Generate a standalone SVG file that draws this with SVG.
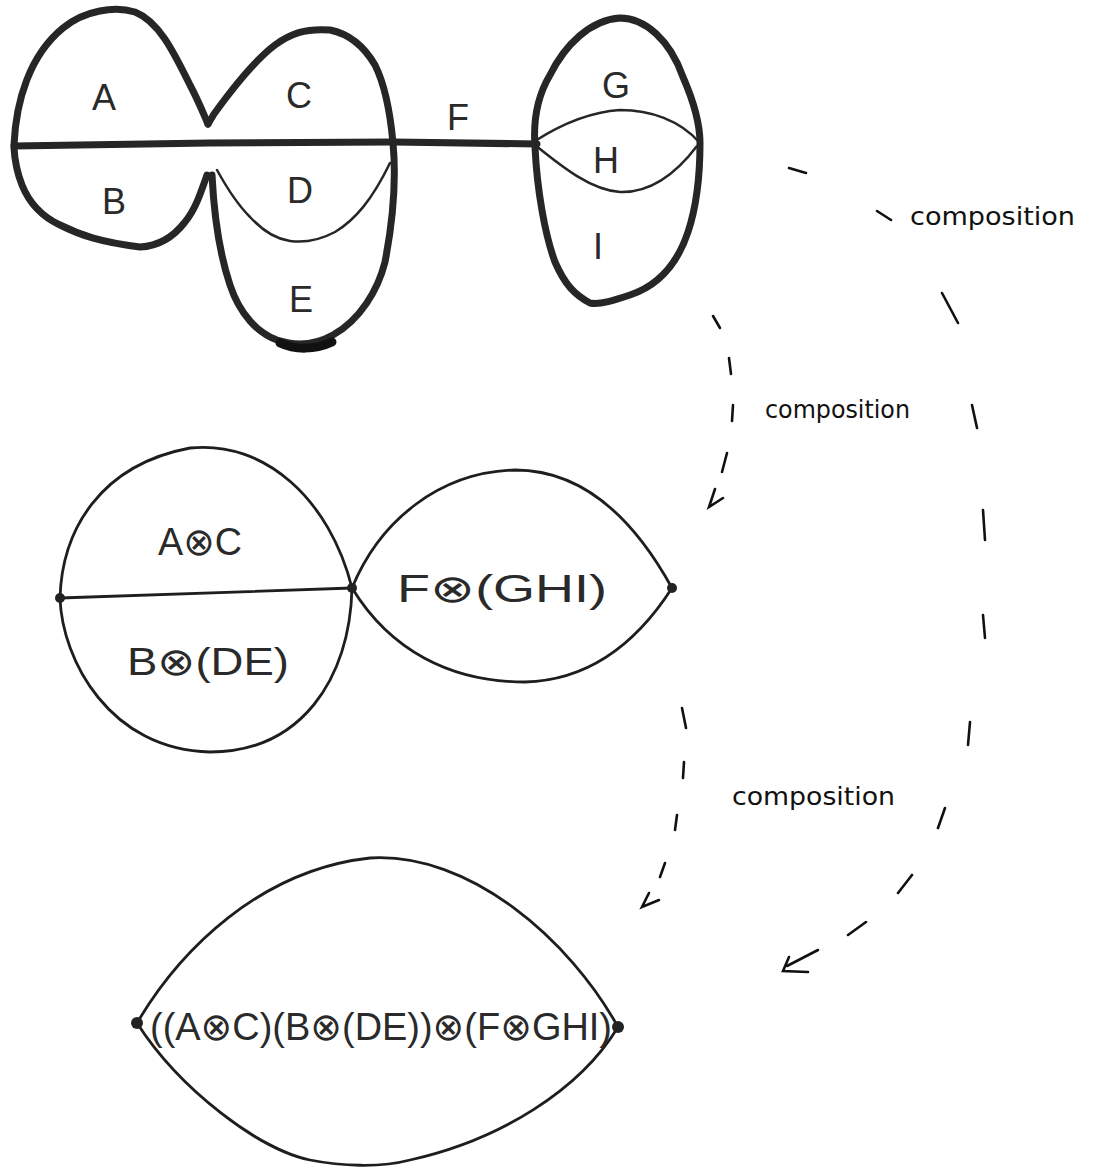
<svg xmlns="http://www.w3.org/2000/svg" width="1093" height="1172" viewBox="0 0 1093 1172">
<style>
.thick{fill:none;stroke:#262626;stroke-width:7;stroke-linecap:round;stroke-linejoin:round}
.thin{fill:none;stroke:#262626;stroke-width:2.5;stroke-linecap:round;stroke-linejoin:round}
.med{fill:none;stroke:#1e1e1e;stroke-width:2.8;stroke-linecap:round;stroke-linejoin:round}
.dash{fill:none;stroke:#111;stroke-width:2.6;stroke-linecap:round}
.lbl{font-family:"Liberation Sans","DejaVu Sans",sans-serif;font-size:36px;fill:#2a2a2a;text-anchor:middle}
.lbl2{font-family:"Liberation Sans","DejaVu Sans",sans-serif;font-size:38px;fill:#2a2a2a}
.cmp{font-family:"DejaVu Sans","Liberation Sans",sans-serif;font-size:24px;fill:#111}
.dot{fill:#222}
</style>
<rect width="1093" height="1172" fill="#fff"/>

<g id="top-diagram">
  <g id="node-A">
    <path class="thick" d="M14,145 C16,100 30,55 63,28 C85,10 115,6 135,12 C160,22 175,55 190,85 C198,100 204,115 208,124"/>
    <text class="lbl" x="104" y="110">A</text>
  </g>
  <g id="node-B">
    <path class="thick" d="M14,148 C15,165 18,175 22,185 C30,205 45,218 60,225 C80,235 100,242 140,247 C160,246 175,235 185,222 C195,210 200,195 207,175"/>
    <text class="lbl" x="114" y="214">B</text>
  </g>
  <g id="node-C">
    <path class="thick" d="M208,124 L214,114 C235,85 255,60 275,45 C290,34 305,28 330,30 C350,34 365,48 375,65 C385,85 390,110 393,143"/>
    <text class="lbl" x="299" y="108">C</text>
  </g>
  <g id="node-DE">
    <path class="thick" d="M393,143 C396,175 395,210 385,262 C378,290 360,320 333,335 C315,345 295,346 277,340 C258,333 240,315 230,285 C220,255 214,215 212,175"/>
    <path d="M280,343 C295,350 315,350 332,342" fill="none" stroke="#111" stroke-width="9" stroke-linecap="round"/>
    <path class="thin" d="M217,170 C228,190 238,205 250,217 C262,230 275,239 290,241 C305,243 320,240 335,232 C355,220 372,200 390,163"/>
    <text class="lbl" x="300" y="203">D</text>
    <text class="lbl" x="301" y="312">E</text>
  </g>
  <g id="node-GHI">
    <path class="thick" d="M535,147 C533,120 538,95 550,75 C565,45 590,20 620,18 C645,18 670,40 683,77 C693,100 700,125 700,143 C700,175 697,205 688,232 C678,262 660,285 630,295 C615,300 600,305 590,303 C575,295 565,285 555,262 C545,235 537,190 535,147 Z"/>
    <path class="thin" d="M535,141 C560,125 590,112 620,110 C650,110 680,120 700,143"/>
    <path class="thin" d="M535,145 C560,165 590,190 620,192 C650,193 675,175 697,146"/>
    <text class="lbl" x="616" y="98">G</text>
    <text class="lbl" x="606" y="173">H</text>
    <text class="lbl" x="598" y="259">I</text>
  </g>
  <g id="edge-F">
    <path class="thick" d="M14,146 L210,143 L393,142 L537,144"/>
    <text class="lbl" x="458" y="130">F</text>
  </g>
</g>

<g id="middle-diagram">
  <g id="node-AC-BDE">
    <path class="med" d="M60,598 C62,530 100,465 190,448 C265,440 330,500 352,588"/>
    <path class="med" d="M60,598 C62,660 110,750 210,752 C300,752 350,680 352,588"/>
    <path class="med" d="M60,598 L352,588"/>
    <text class="lbl2" x="158" y="555" textLength="84" lengthAdjust="spacingAndGlyphs">A⊗C</text>
    <text class="lbl2" x="127" y="675" textLength="162" lengthAdjust="spacingAndGlyphs">B⊗(DE)</text>
  </g>
  <g id="node-FGHI">
    <path class="med" d="M352,588 C380,520 440,472 515,470 C590,470 640,530 672,588"/>
    <path class="med" d="M352,588 C390,650 450,682 525,682 C600,680 645,630 672,588"/>
    <text class="lbl2" x="397" y="602" textLength="210" lengthAdjust="spacingAndGlyphs">F⊗(GHI)</text>
  </g>
  <circle class="dot" cx="60" cy="598" r="5"/>
  <circle class="dot" cx="352" cy="588" r="5"/>
  <circle class="dot" cx="672" cy="588" r="5"/>
</g>

<g id="bottom-diagram">
  <g id="node-all">
    <path class="med" d="M137,1023 C180,950 260,870 370,858 C470,852 570,940 618,1027"/>
    <path class="med" d="M137,1023 C180,1090 260,1150 310,1160 C340,1166 380,1168 410,1160 C500,1140 580,1090 618,1027"/>
    <text class="lbl2" x="150" y="1040" textLength="462" lengthAdjust="spacingAndGlyphs">((A⊗C)(B⊗(DE))⊗(F⊗GHI)</text>
  </g>
  <circle class="dot" cx="137" cy="1023" r="6"/>
  <circle class="dot" cx="618" cy="1027" r="6"/>
</g>

<g id="connectors">
  <g id="arrow-1">
    <path class="dash" d="M713,316 L720,328 M729,358 L731,374 M733,405 L732,421 M727,453 L722,472"/>
    <path class="dash" d="M715,489 L709,507 L723,498"/>
    <text class="cmp" x="765" y="418" textLength="145" lengthAdjust="spacingAndGlyphs">composition</text>
  </g>
  <g id="arrow-2">
    <path class="dash" d="M682,708 L686,728 M684,762 L683,778 M677,815 L675,830 M665,863 L660,877"/>
    <path class="dash" d="M649,893 L642,907 L659,900"/>
    <text class="cmp" x="732" y="805" textLength="163" lengthAdjust="spacingAndGlyphs">composition</text>
  </g>
  <g id="arrow-3">
    <path class="dash" d="M789,168 L806,173 M877,211 L891,220 M942,293 L958,323 M972,405 L977,428 M983,510 L985,540 M983,615 L985,638 M970,722 L968,745 M945,808 L938,828 M912,875 L898,893 M866,922 L848,935"/>
    <path class="dash" d="M818,950 L787,966 M789,957 L783,971 L808,972"/>
    <text class="cmp" x="910" y="225" textLength="165" lengthAdjust="spacingAndGlyphs">composition</text>
  </g>
</g>
</svg>
